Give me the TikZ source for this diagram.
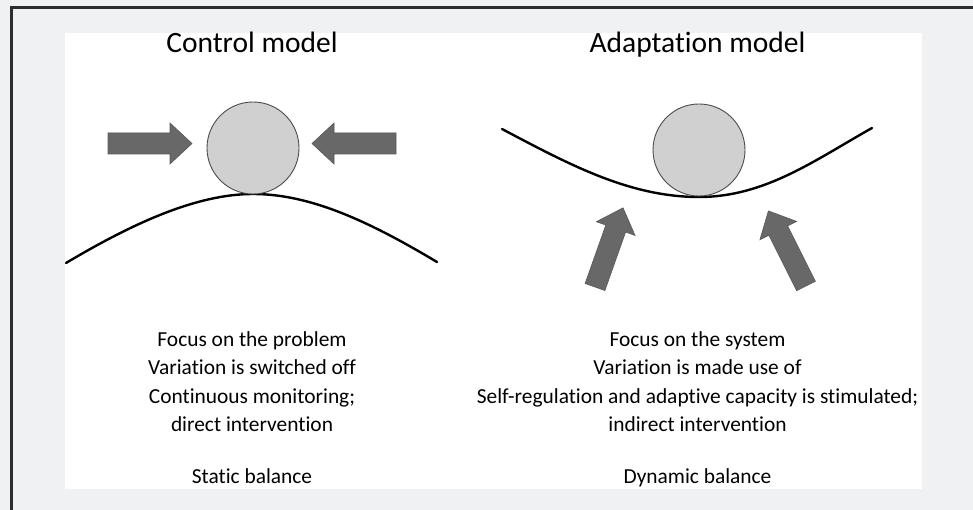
\documentclass[tikz,border=0pt]{standalone}
\usepackage{fontspec}
\setmainfont{Carlito}[Ligatures=NoCommon]
\definecolor{pagebg}{RGB}{240,241,243}
\definecolor{framedark}{RGB}{45,45,45}
\definecolor{ballgray}{RGB}{208,208,208}
\definecolor{pushgray}{RGB}{104,104,104}
\tikzset{
  ball/.style={circle, draw=black!70, fill=ballgray, line width=0.9pt, minimum size=92pt, inner sep=0pt},
  track/.style={line width=2.4pt, line cap=round},
  pusharrow/.style={fill=pushgray, draw=pushgray!85!black, line width=0.6pt},
  push/.pic={\draw[pusharrow] (0,-10.5) -- (62,-10.5) -- (62,-20.5) -- (84,0) -- (62,20.5) -- (62,10.5) -- (0,10.5) -- cycle;},
  title/.style={anchor=base, font=\fontsize{29.5}{34}\selectfont},
  notes/.style={anchor=base, align=center, inner sep=0pt, font=\fontsize{21.4}{28.5}\selectfont}
}
\begin{document}
\begin{tikzpicture}[x=1pt,y=-1pt]
    \useasboundingbox (0,0) rectangle (973,510);
    \fill[pagebg] (0,0) rectangle (973,510);
    \fill[white] (65,33) rectangle (922,489);
    \draw[framedark, line width=3pt] (11.5,510) -- (11.5,8) -- (973,8);
    % Control model: ball on top of the hill
    \node[title] (ctrltitle) at (252,53) {Control model};
    \draw[track] (66,263) .. controls (130,225) and (195,194) .. (253,194)
        .. controls (311,194) and (370,222) .. (437,262);
    \node[ball] (ctrlball) at (253,148) {};
    \pic at (108,143.5) {push};
    \pic[rotate=180] at (396,143.5) {push};
    \node[notes] (ctrlnotes) at (252,431.5) {Focus on the problem\\Variation is switched off\\Continuous monitoring;\\direct intervention};
    \node[notes] (ctrlbal) at (252,483) {Static balance};
    % Adaptation model: ball in the valley
    \node[title] (adapttitle) at (697.5,53) {Adaptation model};
    \draw[track] (502,129) .. controls (570,165) and (630,197) .. (699,197)
        .. controls (765,197) and (815,160) .. (872,128);
    \node[ball] (adaptball) at (699,150) {};
    \pic[rotate=70.5] at (595,287) {push};
    \pic[rotate=116.6] at (806,286) {push};
    \node[notes] (adaptnotes) at (697.5,431.5) {Focus on the system\\Variation is made use of\\Self-regulation and adaptive capacity is stimulated;\\indirect intervention};
    \node[notes] (adaptbal) at (697.5,483) {Dynamic balance};
\end{tikzpicture}
\end{document}
